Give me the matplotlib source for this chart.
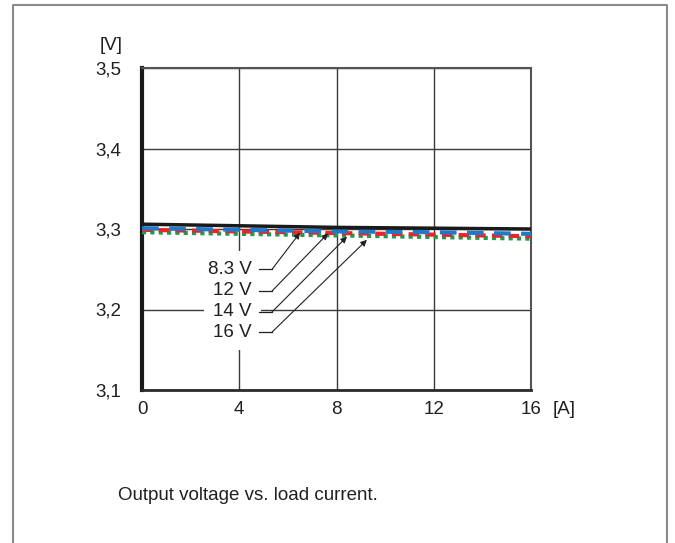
import matplotlib
matplotlib.use("Agg")
import matplotlib.pyplot as plt
from matplotlib.lines import Line2D

plt.rcParams['font.family'] = ['Liberation Sans', 'DejaVu Sans']

# load current [A]
current = [0, 4, 8, 12, 16]
# output voltage [V] per input voltage
v_8_3 = [3.306, 3.304, 3.302, 3.301, 3.300]
v_12 = [3.301, 3.299, 3.297, 3.296, 3.294]
v_14 = [3.299, 3.297, 3.295, 3.293, 3.291]
v_16 = [3.296, 3.294, 3.292, 3.290, 3.288]

x_ticks = [0, 4, 8, 12, 16]
y_ticks = [3.1, 3.2, 3.3, 3.4, 3.5]
y_tick_labels = ['3,1', '3,2', '3,3', '3,4', '3,5']

labels = ['8.3 V', '12 V', '14 V', '16 V']
label_y = [3.250, 3.223, 3.197, 3.172]
arrow_tip_x = [6.5, 7.65, 8.43, 9.25]
arrow_tip_y = [3.2955, 3.2945, 3.2905, 3.2865]

FS = 13.5
TXT = '#231f20'

W, H = 675, 543
fig = plt.figure(figsize=(W / 100, H / 100), dpi=100)
ax = fig.add_axes([142 / W, 1 - 390 / H, 389 / W, 322 / H])

ax.set_xlim(0, 16)
ax.set_ylim(3.1, 3.5)
ax.set_xticks(x_ticks)
ax.set_yticks(y_ticks)
ax.set_yticklabels(y_tick_labels)
ax.tick_params(length=0, labelsize=FS, colors=TXT)
ax.tick_params(axis='y', pad=15)
ax.tick_params(axis='x', pad=8)
ax.grid(True, color='#3a3a3a', linewidth=1.0)
ax.set_axisbelow(True)

ax.spines['left'].set_linewidth(3)
ax.spines['left'].set_color('#1a1a1a')
ax.spines['bottom'].set_linewidth(2)
ax.spines['bottom'].set_color('#2a2a2a')
for s in ['top', 'right']:
    ax.spines[s].set_linewidth(1.5)
    ax.spines[s].set_color('#555555')

ax.plot(current, v_16, color='#1a9e4a', linewidth=3, linestyle=(0, (1, 1)), zorder=3)
ax.plot(current, v_14, color='#e8262a', linewidth=3, linestyle=(0, (2.5, 1.5)), zorder=4)
ax.plot(current, v_12, color='#1f78c8', linewidth=3, linestyle=(0, (4, 2.5)), zorder=5)
ax.plot(current, v_8_3, color='#1a1a1a', linewidth=2.5, zorder=6)

# white background behind the labels (hides the grid there)
for lab, ly in zip(labels, label_y):
    ax.text(4.52, ly, lab, ha='right', va='center', fontsize=FS, color='none',
            bbox=dict(boxstyle='square,pad=0.5', fc='white', ec='none'), zorder=7)

# labels with leader lines and arrows
for lab, ly, tx, ty in zip(labels, label_y, arrow_tip_x, arrow_tip_y):
    ax.text(4.52, ly, lab, ha='right', va='center', fontsize=FS, color=TXT, zorder=8)
    ax.plot([4.81, 5.35], [ly, ly], color=TXT, linewidth=0.9, zorder=8)
    ax.annotate('', xy=(tx, ty), xytext=(5.35, ly),
                arrowprops=dict(arrowstyle='-|>', color=TXT, lw=0.8,
                                mutation_scale=9, shrinkA=0, shrinkB=0),
                zorder=8)

fig.text(100 / W, 1 - 45 / H, '[V]', fontsize=FS, color=TXT, va='center')
fig.text(553 / W, 1 - 410 / H, '[A]', fontsize=FS, color=TXT, va='center')
fig.text(118 / W, 1 - 496 / H, 'Output voltage vs. load current.', fontsize=FS,
         color=TXT, va='center')

# outer frame
frame_x = [13 / W, 13 / W, 667 / W, 667 / W]
frame_y = [0, 1 - 5 / H, 1 - 5 / H, 0]
fig.add_artist(Line2D(frame_x, frame_y, transform=fig.transFigure,
                      color='#8a8a8a', linewidth=1.5))

fig.savefig('out.png', dpi=100)
